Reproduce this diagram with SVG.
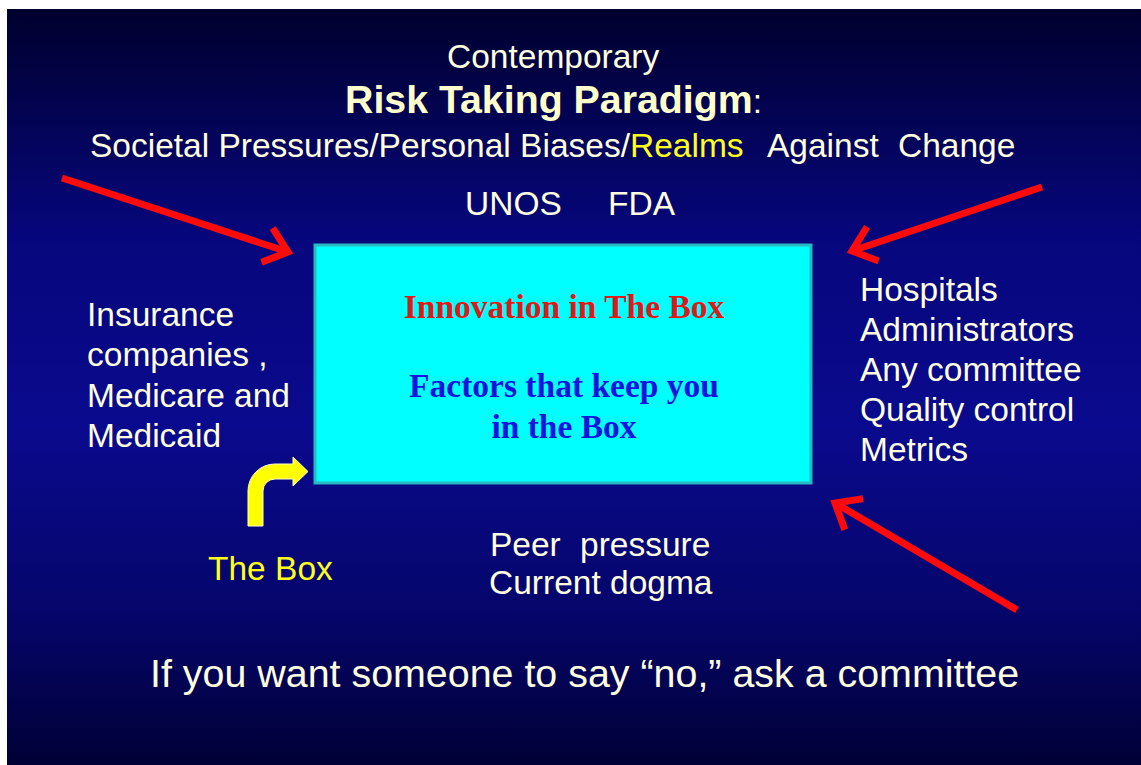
<svg xmlns="http://www.w3.org/2000/svg" width="1141" height="765" viewBox="0 0 1141 765">
  <defs>
    <linearGradient id="bg" x1="0" y1="0" x2="0" y2="1">
      <stop offset="0" stop-color="#00002e"/>
      <stop offset="0.3" stop-color="#06067c"/>
      <stop offset="0.55" stop-color="#0a0a8e"/>
      <stop offset="0.8" stop-color="#05056a"/>
      <stop offset="1" stop-color="#000036"/>
    </linearGradient>
    <marker id="chev" markerUnits="userSpaceOnUse" viewBox="-30 -25 36 50" markerWidth="36" markerHeight="50" refX="0" refY="0" orient="auto" overflow="visible">
      <path d="M-22,-18 L0,0 L-22,18" fill="none" stroke="#ff0a0a" stroke-width="7" stroke-linejoin="miter"/>
    </marker>
    <style>
      .t { font-family: "Liberation Sans", Arial, sans-serif; fill: #ffffe0; font-size: 33.5px; }
      .big { font-size: 39.4px; }
      .b { font-weight: bold; font-size: 39.3px; fill: #ffffcc; }
      .y { fill: #ffff1a; }
      .box { fill: #00ffff; stroke: #2ab8c4; stroke-width: 3; }
      .bt { font-family: "Liberation Serif", "Times New Roman", serif; font-weight: bold; font-size: 33.5px; text-anchor: middle; }
      .red { stroke: #ff0a0a; stroke-width: 7; fill: none; marker-end: url(#chev); }
    </style>
  </defs>
  <rect x="0" y="0" width="1141" height="765" fill="#ffffff"/>
  <rect x="7" y="9" width="1134" height="756" fill="url(#bg)"/>

  <g id="title">
    <text class="t" x="447" y="68">Contemporary</text>
    <text class="t" x="345" y="113"><tspan class="b">Risk Taking Paradigm</tspan><tspan>:</tspan></text>
    <text class="t" x="90" y="157">Societal Pressures/Personal Biases/<tspan class="y">Realms</tspan><tspan x="767">Against</tspan><tspan x="898">Change</tspan></text>
  </g>

  <g id="regulators">
    <text class="t" x="465" y="215">UNOS</text>
    <text class="t" x="608" y="215">FDA</text>
  </g>

  <g id="box">
    <rect class="box" x="315" y="245" width="496" height="238"/>
    <text class="bt" x="564" y="318" fill="#e01818">Innovation in The Box</text>
    <text class="bt" x="564" y="397" fill="#1414dc">Factors that keep you</text>
    <text class="bt" x="564" y="438" fill="#1414dc">in the Box</text>
  </g>

  <g id="insurance">
    <text class="t" x="87" y="326">Insurance</text>
    <text class="t" x="87" y="366">companies ,</text>
    <text class="t" x="87" y="407">Medicare and</text>
    <text class="t" x="87" y="447">Medicaid</text>
  </g>

  <g id="hospitals">
    <text class="t" x="860" y="301">Hospitals</text>
    <text class="t" x="860" y="341">Administrators</text>
    <text class="t" x="860" y="381">Any committee</text>
    <text class="t" x="860" y="421">Quality control</text>
    <text class="t" x="860" y="461">Metrics</text>
  </g>

  <g id="the-box-label">
    <path d="M248,526 L248,491 A27,27 0 0 1 275,464 L293,464 L293,457 L308,471.5 L293,486 L293,479 L275,479 A12,12 0 0 0 263,491 L263,526 Z" fill="#ffff00" stroke="#ffffcc" stroke-width="1"/>
    <text class="t y" x="208" y="580">The Box</text>
  </g>

  <g id="peer">
    <text class="t" x="490" y="556">Peer<tspan x="580">pressure</tspan></text>
    <text class="t" x="489" y="594">Current dogma</text>
  </g>

  <g id="connectors">
    <line class="red" x1="62" y1="178" x2="288" y2="252"/>
    <line class="red" x1="1042" y1="187" x2="852" y2="251"/>
    <line class="red" x1="1017" y1="610" x2="835" y2="503"/>
  </g>

  <g id="footer">
    <text class="t big" x="150" y="687">If you want someone to say “no,” ask a committee</text>
  </g>
</svg>
